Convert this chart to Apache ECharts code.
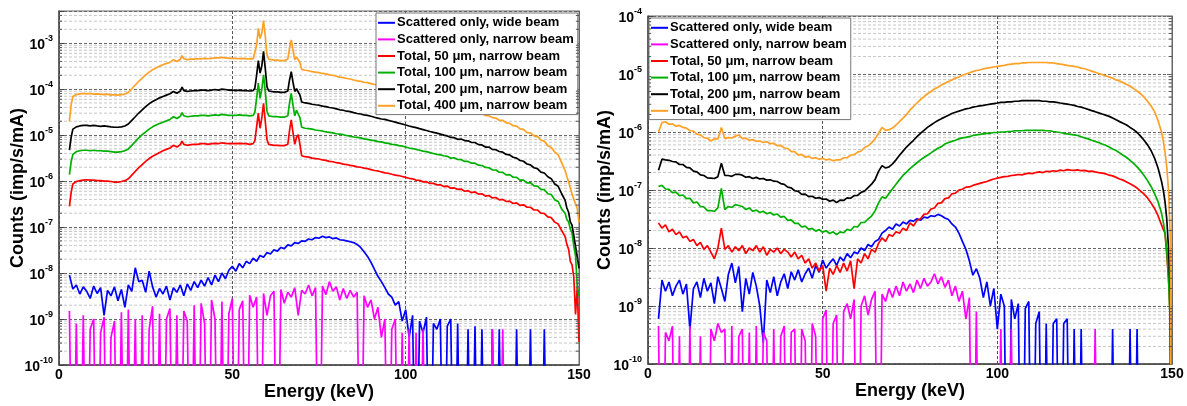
<!DOCTYPE html>
<html><head><meta charset="utf-8">
<script src="https://cdn.jsdelivr.net/npm/echarts@6/dist/echarts.min.js"></script>
<style>html,body{margin:0;padding:0;background:#fff}#c{width:1187px;height:406px}</style>
</head><body><div id="c"></div>
<script>
// ---------------- DATA ----------------
const seriesNames = ['Scattered only, wide beam','Scattered only, narrow beam','Total, 50 \u03bcm, narrow beam','Total, 100 \u03bcm, narrow beam','Total, 200 \u03bcm, narrow beam','Total, 400 \u03bcm, narrow beam'];
const energyTicksKeV = [0, 50, 100, 150];
const countsRangeLeft = [1e-10, 5e-3];
const countsRangeRight = [1e-10, 1e-4];

// energy bins (keV) of the scattered-only spectra (both panels)
const energyScatter = [
3,4,5,6,7,8,9,10,11,12,
13,14,15,16,17,18,19,20,21,22,
23,24,25,26,27,28,29,30,31,32,
33,34,35,36,37,38,39,40,41,42,
43,44,45,46,47,48,49,50,51,52,
53,54,55,56,57,58,59,60,61,62,
63,64,65,66,67,68,69,70,71,72,
73,74,75,76,77,78,79,80,81,82,
83,84,85,86,87,88,89,90,91,92,
93,94,95,96,97,98,99,100,101,102,
103,104,105,106,107,108,109,110,111,112,
113,114,115,116,117,118,119,120,121,122,
123,124,125,126,127,128,129,130,131,132,
133,134,135,136,137,138,139,140,141,142,
143,144,145,146,147,148,149,150];

// ----- left panel -----
const scatWideLeft = [
9e-9,4.5e-9,5.5e-9,3.5e-9,5e-9,4e-9,2.8e-9,5.2e-9,3.6e-9,4.8e-9,
1.2e-9,4.2e-9,3.2e-9,5e-9,2.5e-9,4.4e-9,1.8e-9,5.5e-9,4e-9,1.3e-8,
6.5e-9,7e-9,3.8e-9,1.1e-8,5e-9,3e-9,4.6e-9,3.5e-9,5.2e-9,2.6e-9,
4.8e-9,3.8e-9,5.5e-9,3.2e-9,5.8e-9,4.2e-9,6.5e-9,4.8e-9,7e-9,5.2e-9,
8e-9,5.5e-9,9e-9,6.5e-9,1e-8,7.5e-9,1.15e-8,1.4e-8,1.1e-8,1.6e-8,
1.3e-8,1.8e-8,1.6e-8,2.1e-8,1.8e-8,2.4e-8,2.2e-8,2.8e-8,2.6e-8,3.2e-8,
3e-8,3.6e-8,3.4e-8,4.1e-8,3.9e-8,4.6e-8,4.4e-8,5e-8,4.9e-8,5.5e-8,
5.3e-8,5.9e-8,5.7e-8,6.3e-8,5.9e-8,6.1e-8,5.6e-8,5.8e-8,5.3e-8,5.2e-8,
5e-8,4.8e-8,4.6e-8,4.2e-8,3.6e-8,2.9e-8,2.3e-8,1.7e-8,1.2e-8,8.5e-9,
6.5e-9,4.8e-9,3.5e-9,3e-9,2e-9,2.4e-9,9e-10,1.6e-9,4e-10,1.2e-9,
0,9e-10,5e-10,1.1e-9,0,8e-10,6e-10,1e-9,0,7e-10,
1e-9,0,8e-10,0,0,6e-10,0,7e-10,0,6e-10,
0,0,6e-10,0,6e-10,0,0,0,0,6e-10,
0,0,0,6e-10,0,0,0,6e-10,0,0,
0,0,0,0,0,0,0,0];
const scatNarrowLeft = [
1.5e-9,0,8e-10,0,1.2e-9,0,6e-10,1e-9,0,5e-10,
1.1e-9,0,4e-10,9e-10,0,1.4e-9,0,1.6e-9,0,1e-9,
0,1.2e-9,0,6e-10,1.9e-9,0,1.3e-9,0,1e-9,1.7e-9,
0,1.2e-9,0,1.5e-9,9e-10,0,2e-9,0,2.2e-9,8e-10,
0,2.6e-9,1e-9,0,2.4e-9,0,1.3e-9,2.8e-9,0,1.6e-9,
2.5e-9,0,3.3e-9,1.8e-9,3e-9,0,3.6e-9,1.2e-9,3.2e-9,4e-9,
0,4.4e-9,2.2e-9,3.8e-9,3e-9,4.8e-9,1.2e-9,4.2e-9,3.5e-9,5.5e-9,
3.2e-9,4.8e-9,0,5.2e-9,3.4e-9,6.5e-9,4e-9,5e-9,2.6e-9,4.6e-9,
2.8e-9,4.2e-9,3e-9,3.8e-9,0,3.2e-9,1.8e-9,2.6e-9,1e-9,1.8e-9,
4e-10,1e-9,0,6e-10,1e-9,0,5e-10,0,6e-10,0,
5e-10,0,6e-10,0,0,0,0,0,0,0,
0,0,0,0,0,0,0,0,0,0,
0,0,6e-10,0,0,6e-10,0,0,0,0,
0,0,0,0,0,0,0,0,0,0,
0,0,0,0,0,0,0,0];

// energy bins (keV) of the total spectra, left panel
const energyTotalLeft = [
3,3.5,4,5,6,7,8,9,10,11,
12,13,14,15,16,17,18,19,20,21,
22,23,24,25,26,27,28,29,30,31,
32,33,34,35,35.5,36,37,38,39,40,
41,42,43,44,45,46,47,48,49,50,
51,52,53,54,55,56,56.5,57,57.5,58,
58.5,59,59.5,60,60.5,61,62,63,64,65,
66,66.5,67,67.5,68,68.5,69,69.5,70,71,
72,73,74,75,76,77,78,79,80,81,
82,83,84,85,86,87,88,89,90,91,
92,93,94,95,96,97,98,99,100,101,
102,103,104,105,106,107,108,109,110,111,
112,113,114,115,116,117,118,119,120,121,
122,123,124,125,126,127,128,129,130,131,
132,133,134,135,136,137,138,139,140,141,
142,143,144,145,146,
146.5,147,147.5,148,148.5,149,149.5,150];
const total400Left = [
2.0e-5,4.5e-5,6.9e-5,7.6e-5,7.9e-5,8.1e-5,7.9e-5,8.1e-5,7.8e-5,7.9e-5,
7.8e-5,7.6e-5,7.8e-5,7.4e-5,7.6e-5,7.4e-5,7.6e-5,7.8e-5,8.5e-5,1.02e-4,
1.23e-4,1.48e-4,1.74e-4,2.04e-4,2.34e-4,2.63e-4,2.88e-4,3.16e-4,3.39e-4,3.63e-4,
3.8e-4,4.37e-4,3.98e-4,4.47e-4,5.37e-4,4.57e-4,4.37e-4,4.47e-4,4.47e-4,4.57e-4,
4.57e-4,4.68e-4,4.57e-4,4.68e-4,4.79e-4,4.79e-4,4.9e-4,4.79e-4,4.68e-4,4.68e-4,
4.68e-4,4.57e-4,4.68e-4,4.57e-4,4.57e-4,4.57e-4,5.0e-4,8.9e-4,2.09e-3,1.26e-3,
1.66e-3,3.09e-3,1.41e-3,5.62e-4,4.47e-4,4.37e-4,4.27e-4,4.27e-4,4.17e-4,4.17e-4,
4.47e-4,7.9e-4,1.17e-3,7.1e-4,4.37e-4,5.0e-4,5.25e-4,3.8e-4,2.69e-4,2.57e-4,
2.51e-4,2.4e-4,2.34e-4,2.29e-4,2.19e-4,2.14e-4,2.04e-4,2.0e-4,1.91e-4,1.82e-4,
1.78e-4,1.70e-4,1.66e-4,1.58e-4,1.51e-4,1.48e-4,1.41e-4,1.38e-4,1.32e-4,1.26e-4,
1.20e-4,1.15e-4,1.12e-4,1.07e-4,1.02e-4,9.8e-5,9.3e-5,8.9e-5,8.5e-5,8.1e-5,
7.8e-5,7.4e-5,7.1e-5,6.8e-5,6.5e-5,6.2e-5,5.9e-5,5.6e-5,5.2e-5,5.0e-5,
4.8e-5,4.5e-5,4.5e-5,4.1e-5,4.0e-5,3.6e-5,3.7e-5,3.3e-5,3.3e-5,3.0e-5,
3.0e-5,2.65e-5,2.65e-5,2.4e-5,2.35e-5,2.1e-5,2.1e-5,1.85e-5,1.8e-5,1.6e-5,
1.57e-5,1.36e-5,1.33e-5,1.13e-5,1.12e-5,9.6e-6,9.4e-6,7.8e-6,7.3e-6,5.9e-6,
5.4e-6,4.3e-6,3.7e-6,2.5e-6,1.7e-6,
1.26e-6,9.5e-7,7.1e-7,5.2e-7,4.0e-7,3.2e-7,2.5e-7,1.26e-7];
const total200Left = [
4.7e-6,8.9e-6,1.35e-5,1.51e-5,1.58e-5,1.62e-5,1.62e-5,1.58e-5,1.62e-5,1.58e-5,
1.55e-5,1.58e-5,1.55e-5,1.51e-5,1.48e-5,1.48e-5,1.51e-5,1.58e-5,1.74e-5,2.09e-5,
2.51e-5,3.02e-5,3.55e-5,4.17e-5,4.79e-5,5.37e-5,5.89e-5,6.46e-5,6.92e-5,7.41e-5,
7.94e-5,8.9e-5,8.1e-5,9.1e-5,1.10e-4,9.3e-5,8.9e-5,9.1e-5,9.3e-5,9.3e-5,
9.5e-5,9.5e-5,9.3e-5,9.5e-5,9.8e-5,9.5e-5,1.0e-4,9.8e-5,9.5e-5,9.5e-5,
9.3e-5,9.5e-5,9.3e-5,9.3e-5,9.1e-5,9.3e-5,1.05e-4,2.0e-4,4.17e-4,2.24e-4,
3.16e-4,6.6e-4,2.82e-4,1.12e-4,9.1e-5,8.9e-5,8.7e-5,8.7e-5,8.5e-5,8.5e-5,
9.1e-5,1.58e-4,2.4e-4,1.41e-4,8.9e-5,1.02e-4,1.10e-4,7.4e-5,5.25e-5,5.0e-5,
4.9e-5,4.68e-5,4.57e-5,4.47e-5,4.27e-5,4.17e-5,3.98e-5,3.89e-5,3.72e-5,3.55e-5,
3.47e-5,3.31e-5,3.24e-5,3.09e-5,2.95e-5,2.88e-5,2.75e-5,2.69e-5,2.57e-5,2.45e-5,
2.34e-5,2.24e-5,2.19e-5,2.09e-5,2.0e-5,1.91e-5,1.82e-5,1.74e-5,1.66e-5,1.58e-5,
1.51e-5,1.45e-5,1.38e-5,1.32e-5,1.26e-5,1.20e-5,1.15e-5,1.10e-5,1.05e-5,1.0e-5,
9.6e-6,8.9e-6,8.8e-6,8.1e-6,8.2e-6,7.6e-6,7.5e-6,6.9e-6,6.9e-6,6.2e-6,
6.1e-6,5.5e-6,5.5e-6,4.9e-6,4.8e-6,4.4e-6,4.25e-6,3.8e-6,3.7e-6,3.3e-6,
3.15e-6,2.8e-6,2.7e-6,2.35e-6,2.25e-6,1.95e-6,1.87e-6,1.57e-6,1.5e-6,1.24e-6,
1.13e-6,8.6e-7,7.7e-7,5.3e-7,3.8e-7,
2.6e-7,2.1e-7,1.3e-7,1.1e-7,6.5e-8,6e-8,2.24e-8,1.26e-8];
const total100Left = [
1.38e-6,2.63e-6,3.8e-6,4.37e-6,4.57e-6,4.68e-6,4.68e-6,4.57e-6,4.68e-6,4.57e-6,
4.57e-6,4.47e-6,4.47e-6,4.37e-6,4.27e-6,4.27e-6,4.37e-6,4.57e-6,5.0e-6,6.0e-6,
7.2e-6,8.7e-6,1.02e-5,1.17e-5,1.35e-5,1.51e-5,1.66e-5,1.78e-5,1.91e-5,2.04e-5,
2.19e-5,2.51e-5,2.29e-5,2.57e-5,3.09e-5,2.63e-5,2.51e-5,2.57e-5,2.63e-5,2.63e-5,
2.69e-5,2.69e-5,2.63e-5,2.69e-5,2.75e-5,2.69e-5,2.82e-5,2.75e-5,2.69e-5,2.69e-5,
2.69e-5,2.75e-5,2.69e-5,2.69e-5,2.63e-5,2.69e-5,3.16e-5,6.3e-5,1.35e-4,6.3e-5,
1.0e-4,2.04e-4,8.9e-5,3.31e-5,2.63e-5,2.57e-5,2.51e-5,2.51e-5,2.45e-5,2.45e-5,
2.63e-5,5.0e-5,8.1e-5,4.47e-5,2.63e-5,3.47e-5,3.8e-5,2.4e-5,1.48e-5,1.41e-5,
1.38e-5,1.35e-5,1.29e-5,1.26e-5,1.23e-5,1.17e-5,1.15e-5,1.12e-5,1.07e-5,1.05e-5,
1.02e-5,9.8e-6,9.5e-6,9.1e-6,8.9e-6,8.7e-6,8.3e-6,8.1e-6,7.8e-6,7.6e-6,
7.2e-6,7.1e-6,6.8e-6,6.6e-6,6.3e-6,6.2e-6,5.9e-6,5.75e-6,5.5e-6,5.25e-6,
5.1e-6,4.9e-6,4.68e-6,4.47e-6,4.37e-6,4.17e-6,3.98e-6,3.8e-6,3.72e-6,3.55e-6,
3.45e-6,3.15e-6,3.22e-6,2.95e-6,2.93e-6,2.68e-6,2.68e-6,2.45e-6,2.45e-6,2.22e-6,
2.18e-6,1.98e-6,1.95e-6,1.76e-6,1.74e-6,1.56e-6,1.55e-6,1.36e-6,1.38e-6,1.21e-6,
1.2e-6,1.05e-6,1.05e-6,9.1e-7,9.2e-7,7.9e-7,7.8e-7,6.6e-7,6.5e-7,5.3e-7,
5.1e-7,3.9e-7,3.6e-7,2.45e-7,2.0e-7,
1.45e-7,1.3e-7,9e-8,7.5e-8,3.8e-8,2.4e-8,5e-9,3.2e-9];
const total50Left = [
2.82e-7,5.6e-7,8.7e-7,9.8e-7,1.02e-6,1.05e-6,1.07e-6,1.05e-6,1.05e-6,1.02e-6,
1.02e-6,1.0e-6,1.0e-6,9.8e-7,9.5e-7,9.5e-7,9.8e-7,1.02e-6,1.12e-6,1.35e-6,
1.62e-6,1.95e-6,2.29e-6,2.69e-6,3.09e-6,3.47e-6,3.8e-6,4.17e-6,4.57e-6,4.9e-6,
5.25e-6,6.0e-6,5.5e-6,6.2e-6,7.4e-6,6.3e-6,6.0e-6,6.2e-6,6.3e-6,6.3e-6,
6.5e-6,6.5e-6,6.3e-6,6.5e-6,6.6e-6,6.5e-6,6.8e-6,6.6e-6,6.5e-6,6.5e-6,
6.5e-6,6.6e-6,6.5e-6,6.5e-6,6.3e-6,6.5e-6,7.6e-6,1.51e-5,3.02e-5,1.41e-5,
2.34e-5,4.9e-5,2.0e-5,7.9e-6,6.3e-6,6.2e-6,6.0e-6,6.0e-6,5.9e-6,5.9e-6,
6.3e-6,1.26e-5,2.14e-5,1.12e-5,6.3e-6,8.9e-6,1.02e-5,6.3e-6,3.55e-6,3.39e-6,
3.31e-6,3.16e-6,3.09e-6,3.02e-6,2.88e-6,2.82e-6,2.69e-6,2.63e-6,2.51e-6,2.45e-6,
2.34e-6,2.29e-6,2.19e-6,2.14e-6,2.04e-6,2.0e-6,1.91e-6,1.86e-6,1.78e-6,1.70e-6,
1.66e-6,1.58e-6,1.51e-6,1.48e-6,1.41e-6,1.35e-6,1.32e-6,1.26e-6,1.20e-6,1.15e-6,
1.12e-6,1.05e-6,1.04e-6,9.6e-7,9.7e-7,8.9e-7,8.9e-7,8.3e-7,8.3e-7,7.6e-7,
7.8e-7,7.0e-7,7.1e-7,6.6e-7,6.7e-7,6.0e-7,6.2e-7,5.6e-7,5.8e-7,5.2e-7,
5.3e-7,4.7e-7,4.85e-7,4.3e-7,4.4e-7,3.9e-7,4.0e-7,3.6e-7,3.65e-7,3.25e-7,
3.35e-7,2.95e-7,3.05e-7,2.7e-7,2.7e-7,2.35e-7,2.35e-7,2.0e-7,1.97e-7,1.66e-7,
1.6e-7,1.28e-7,1.16e-7,8.4e-8,6.2e-8,
4.2e-8,3.3e-8,1.8e-8,1.5e-8,8e-9,1.26e-9,5.0e-9,3.2e-10];

// ----- right panel -----
const scatWideRight = [
6e-10,2.8e-9,1.8e-9,2.6e-9,1.5e-9,2.2e-9,2.8e-9,1.6e-9,2.4e-9,4e-10,
2.0e-9,2.6e-9,1.4e-9,3.0e-9,1.8e-9,2.5e-9,1.1e-9,3.2e-9,2.0e-9,1.2e-9,
3.5e-9,5.5e-9,2.5e-9,4.8e-9,8e-10,3.0e-9,1.6e-9,3.8e-9,2.2e-9,1.0e-9,
2.3e-10,2.8e-9,1.7e-9,3.2e-9,1.5e-9,2.6e-9,3.6e-9,2.0e-9,3.9e-9,2.8e-9,
4.2e-9,2.6e-9,3.6e-9,4.5e-9,3.0e-9,5.0e-9,3.8e-9,6.2e-9,4.5e-9,5.5e-9,
6.5e-9,5.0e-9,7.0e-9,6.0e-9,8.0e-9,6.8e-9,8.5e-9,8.0e-9,1.0e-8,9.0e-9,
1.15e-8,1.05e-8,1.3e-8,1.4e-8,1.8e-8,2.0e-8,2.3e-8,2.1e-8,2.6e-8,2.4e-8,
2.8e-8,2.6e-8,3.0e-8,2.9e-8,3.2e-8,3.0e-8,3.4e-8,3.3e-8,3.6e-8,3.5e-8,
3.8e-8,3.6e-8,3.3e-8,3.1e-8,2.6e-8,2.3e-8,1.8e-8,1.3e-8,9.5e-9,6.0e-9,
3.4e-9,4.4e-9,3.0e-9,1.4e-9,2.6e-9,1.0e-9,2.0e-9,4e-10,1.6e-9,1.0e-9,
0,1.3e-9,6e-10,1.1e-9,0,9e-10,1.2e-9,0,5e-10,8e-10,
0,5e-10,0,5e-10,6e-10,0,5e-10,6e-10,0,4e-10,
0,4e-10,0,0,0,0,0,0,0,0,
4e-10,0,0,0,0,4e-10,0,4e-10,0,0,
0,0,0,0,0,0,0,0];
const scatNarrowRight = [
4.5e-10,0,3.5e-10,2.5e-10,4.5e-10,0,3e-10,0,0,4.5e-10,
0,0,3e-10,0,0,4e-10,2.5e-10,5e-10,3.5e-10,4e-10,
0,4.5e-10,0,3e-10,4e-10,0,3.5e-10,0,4.5e-10,0,
3.5e-10,2.5e-10,0,4e-10,0,3e-10,4.5e-10,0,3.5e-10,4e-10,
0,4e-10,2.5e-10,0,5e-10,3e-10,0,6e-10,8.5e-10,0,
5e-10,7e-10,0,8e-10,1.1e-9,6e-10,1.3e-9,0,1.0e-9,1.5e-9,
7e-10,1.3e-9,1.8e-9,0,1.6e-9,1.2e-9,2.0e-9,1.4e-9,2.2e-9,1.5e-9,
2.6e-9,1.8e-9,2.4e-9,1.7e-9,2.8e-9,2.0e-9,3.0e-9,2.2e-9,2.6e-9,3.6e-9,
2.4e-9,3.2e-9,2.1e-9,2.8e-9,1.5e-9,2.2e-9,1.2e-9,1.8e-9,6e-10,1.4e-9,
0,8e-10,0,0,0,0,0,0,4e-10,0,
0,4e-10,0,0,0,0,0,0,0,0,
0,0,0,0,0,0,0,0,0,0,
0,0,0,0,0,4e-10,0,0,0,0,
0,0,0,0,0,0,0,0,0,0,
0,0,0,0,0,0,0,0];

// energy bins (keV) of the total spectra, right panel
const energyTotalRight = [
3,4,5,6,7,8,9,10,11,12,
13,14,15,16,17,18,19,20,21,22,
23,24,25,26,27,28,29,30,31,32,
33,34,35,36,37,38,39,40,41,42,
43,44,45,46,47,48,49,50,51,52,
53,54,55,56,57,58,59,60,61,62,
63,64,65,66,67,68,69,70,71,72,
73,74,75,76,77,78,79,80,81,82,
83,84,85,86,87,88,89,90,91,92,
93,94,95,96,97,98,99,100,101,102,
103,104,105,106,107,108,109,110,111,112,
113,114,115,116,117,118,119,120,121,122,
123,124,125,126,127,128,129,130,131,132,
133,134,135,136,137,138,139,140,141,142,
143,144,145,146,147,
147.5,148,148.5,149,149.5,150];
const total400Right = [
1.0e-6,1.45e-6,1.5e-6,1.36e-6,1.38e-6,1.26e-6,1.3e-6,1.2e-6,1.17e-6,1.05e-6,
1.04e-6,9.2e-7,8.9e-7,8.0e-7,7.8e-7,7.0e-7,7.7e-7,7.6e-7,1.2e-6,7.7e-7,
8.0e-7,7.9e-7,8.5e-7,8.9e-7,7.7e-7,7.8e-7,7.2e-7,7.4e-7,6.9e-7,7.0e-7,
6.6e-7,6.8e-7,6.3e-7,6.4e-7,5.8e-7,5.9e-7,5.3e-7,5.2e-7,4.6e-7,4.6e-7,
4.0e-7,4.1e-7,3.7e-7,3.8e-7,3.5e-7,3.6e-7,3.4e-7,3.5e-7,3.3e-7,3.4e-7,
3.2e-7,3.3e-7,3.3e-7,3.6e-7,3.6e-7,4.0e-7,4.05e-7,4.5e-7,4.7e-7,5.4e-7,
5.75e-7,6.5e-7,7.6e-7,9.5e-7,1.2e-6,1.07e-6,1.10e-6,1.17e-6,1.32e-6,1.51e-6,
1.74e-6,2.0e-6,2.4e-6,2.75e-6,3.16e-6,3.63e-6,4.07e-6,4.57e-6,5.0e-6,5.5e-6,
5.9e-6,6.5e-6,6.9e-6,7.4e-6,7.9e-6,8.5e-6,8.9e-6,9.5e-6,1.0e-5,1.05e-5,
1.10e-5,1.15e-5,1.17e-5,1.23e-5,1.26e-5,1.29e-5,1.32e-5,1.35e-5,1.38e-5,1.41e-5,
1.45e-5,1.48e-5,1.51e-5,1.51e-5,1.55e-5,1.55e-5,1.58e-5,1.58e-5,1.58e-5,1.58e-5,
1.58e-5,1.58e-5,1.55e-5,1.55e-5,1.51e-5,1.48e-5,1.45e-5,1.41e-5,1.38e-5,1.35e-5,
1.32e-5,1.26e-5,1.23e-5,1.17e-5,1.12e-5,1.07e-5,1.02e-5,9.8e-6,9.3e-6,8.9e-6,
8.5e-6,7.9e-6,7.6e-6,7.1e-6,6.6e-6,6.2e-6,5.6e-6,5.1e-6,4.57e-6,3.98e-6,
3.39e-6,2.82e-6,2.24e-6,1.58e-6,1.0e-6,
7.1e-7,4.47e-7,2.5e-7,1.0e-7,1.6e-8,0];
const total200Right = [
2.2e-7,3.4e-7,3.3e-7,3.25e-7,3.1e-7,3.05e-7,2.75e-7,2.75e-7,2.45e-7,2.4e-7,
2.12e-7,2.05e-7,1.82e-7,1.78e-7,1.62e-7,1.6e-7,1.58e-7,1.7e-7,2.9e-7,1.78e-7,
1.78e-7,1.72e-7,1.86e-7,1.87e-7,1.8e-7,1.66e-7,1.7e-7,1.58e-7,1.65e-7,1.55e-7,
1.58e-7,1.48e-7,1.5e-7,1.42e-7,1.4e-7,1.29e-7,1.25e-7,1.12e-7,1.09e-7,9.7e-8,
9.5e-8,8.4e-8,8.5e-8,7.7e-8,7.8e-8,7.2e-8,7.4e-8,6.9e-8,7.0e-8,6.4e-8,
6.7e-8,6.1e-8,6.7e-8,6.6e-8,7.3e-8,7.2e-8,8.0e-8,8.1e-8,9.1e-8,9.6e-8,
1.10e-7,1.26e-7,1.51e-7,2.09e-7,2.63e-7,2.4e-7,2.51e-7,2.82e-7,3.31e-7,3.98e-7,
4.68e-7,5.5e-7,6.3e-7,7.2e-7,8.3e-7,9.5e-7,1.07e-6,1.20e-6,1.32e-6,1.45e-6,
1.58e-6,1.70e-6,1.82e-6,1.95e-6,2.09e-6,2.19e-6,2.29e-6,2.4e-6,2.51e-6,2.57e-6,
2.69e-6,2.75e-6,2.82e-6,2.88e-6,2.95e-6,3.02e-6,3.09e-6,3.16e-6,3.24e-6,3.24e-6,
3.31e-6,3.31e-6,3.39e-6,3.39e-6,3.47e-6,3.47e-6,3.47e-6,3.47e-6,3.47e-6,3.47e-6,
3.39e-6,3.39e-6,3.31e-6,3.31e-6,3.24e-6,3.16e-6,3.09e-6,3.02e-6,2.95e-6,2.88e-6,
2.75e-6,2.69e-6,2.57e-6,2.45e-6,2.34e-6,2.24e-6,2.14e-6,2.04e-6,1.95e-6,1.86e-6,
1.74e-6,1.62e-6,1.51e-6,1.41e-6,1.32e-6,1.20e-6,1.10e-6,9.8e-7,8.5e-7,7.2e-7,
6.0e-7,4.8e-7,3.55e-7,2.4e-7,1.41e-7,
1.0e-7,6.3e-8,3.16e-8,1.0e-8,1.6e-9,0];
const total100Right = [
1.15e-7,1.2e-7,1.04e-7,1.03e-7,9.0e-8,9.2e-8,8.0e-8,8.2e-8,7.1e-8,7.2e-8,
6.0e-8,6.2e-8,5.2e-8,5.1e-8,4.4e-8,4.4e-8,4.3e-8,4.9e-8,1.07e-7,4.6e-8,
5.2e-8,5.0e-8,5.6e-8,5.4e-8,5.2e-8,4.6e-8,4.9e-8,4.3e-8,4.5e-8,4.1e-8,
4.3e-8,3.9e-8,4.1e-8,3.7e-8,3.85e-8,3.4e-8,3.5e-8,3.0e-8,3.05e-8,2.65e-8,
2.65e-8,2.3e-8,2.38e-8,2.1e-8,2.18e-8,1.95e-8,2.08e-8,1.87e-8,1.98e-8,1.78e-8,
1.9e-8,1.7e-8,1.9e-8,1.83e-8,2.1e-8,2.0e-8,2.35e-8,2.3e-8,2.75e-8,2.75e-8,
3.16e-8,3.55e-8,4.37e-8,6.0e-8,7.6e-8,7.2e-8,8.7e-8,1.05e-7,1.26e-7,1.51e-7,
1.78e-7,2.04e-7,2.34e-7,2.63e-7,2.95e-7,3.31e-7,3.63e-7,3.98e-7,4.37e-7,4.8e-7,
5.25e-7,5.6e-7,6.2e-7,6.6e-7,6.9e-7,7.2e-7,7.6e-7,7.9e-7,8.1e-7,8.3e-7,
8.7e-7,8.9e-7,9.1e-7,9.3e-7,9.5e-7,9.5e-7,9.8e-7,9.8e-7,1.0e-6,1.0e-6,
1.02e-6,1.02e-6,1.05e-6,1.05e-6,1.05e-6,1.07e-6,1.07e-6,1.07e-6,1.07e-6,1.07e-6,
1.07e-6,1.05e-6,1.05e-6,1.02e-6,1.0e-6,9.8e-7,9.5e-7,9.3e-7,9.1e-7,8.9e-7,
8.7e-7,8.3e-7,7.9e-7,7.6e-7,7.2e-7,6.9e-7,6.6e-7,6.2e-7,5.9e-7,5.5e-7,
5.1e-7,4.8e-7,4.37e-7,3.98e-7,3.63e-7,3.24e-7,2.88e-7,2.51e-7,2.14e-7,1.78e-7,
1.45e-7,1.15e-7,8.7e-8,6.3e-8,4.0e-8,
2.82e-8,1.78e-8,8.9e-9,3.2e-9,5e-10,0];
const total50Right = [
2.7e-8,2.2e-8,2.5e-8,1.9e-8,2.1e-8,1.7e-8,1.9e-8,1.5e-8,1.6e-8,1.3e-8,
1.4e-8,1.1e-8,1.25e-8,9.5e-9,1.1e-8,8.5e-9,6.5e-9,1.0e-8,2.2e-8,9.5e-9,
1.1e-8,8.5e-9,1.05e-8,9.0e-9,1.1e-8,8.0e-9,1.0e-8,9.0e-9,1.1e-8,8.5e-9,
1.05e-8,7.5e-9,9.5e-9,8.5e-9,1.0e-8,8.0e-9,9.5e-9,8.5e-9,7.0e-9,8.5e-9,
6.5e-9,7.5e-9,5.5e-9,6.5e-9,4.5e-9,5.5e-9,4.0e-9,5.0e-9,1.8e-9,4.5e-9,
3.5e-9,5.0e-9,3.8e-9,5.5e-9,4.0e-9,6.0e-9,2.0e-9,6.5e-9,5.5e-9,8.0e-9,
6.5e-9,9.5e-9,8.5e-9,1.2e-8,1.5e-8,1.3e-8,1.7e-8,1.6e-8,1.9e-8,1.8e-8,
2.2e-8,2.0e-8,2.7e-8,2.4e-8,3.0e-8,3.2e-8,3.8e-8,3.9e-8,4.7e-8,4.9e-8,
5.9e-8,6.0e-8,7.1e-8,7.3e-8,8.6e-8,8.8e-8,1.0e-7,1.03e-7,1.12e-7,1.13e-7,
1.2e-7,1.25e-7,1.3e-7,1.35e-7,1.4e-7,1.48e-7,1.55e-7,1.6e-7,1.65e-7,1.7e-7,
1.72e-7,1.78e-7,1.8e-7,1.85e-7,1.82e-7,1.9e-7,1.95e-7,1.92e-7,2.0e-7,2.05e-7,
2.0e-7,2.1e-7,2.08e-7,2.15e-7,2.1e-7,2.2e-7,2.15e-7,2.25e-7,2.2e-7,2.18e-7,
2.22e-7,2.15e-7,2.18e-7,2.1e-7,2.12e-7,2.05e-7,2.0e-7,1.95e-7,1.9e-7,1.8e-7,
1.75e-7,1.65e-7,1.55e-7,1.48e-7,1.38e-7,1.28e-7,1.18e-7,1.08e-7,9.6e-8,8.5e-8,
7.3e-8,6.0e-8,4.8e-8,3.6e-8,2.5e-8,
2.1e-8,1.8e-8,8e-9,3e-9,6e-10,0];

// ---------------- CHART ----------------
const FONT = 'Arial, "Liberation Sans", sans-serif';
const COLORS = ['#0000ff', '#ff00ff', '#ff0000', '#00b000', '#000000', '#ffa126'];
const FLOOR = 1e-14; // zero counts cannot be shown on a log axis: send them far below the axis floor

function pairs(xs, ys) {
  const n = Math.min(xs.length, ys.length), out = [];
  for (let i = 0; i < n; i++) out.push([xs[i], ys[i] > 0 ? ys[i] : FLOOR]);
  return out;
}
function minorValues(range) {
  const out = [];
  const lo = Math.round(Math.log10(range[0])), hi = Math.ceil(Math.log10(range[1]));
  for (let e = lo; e < hi; e++) for (let m = 2; m <= 9; m++) {
    const v = m * Math.pow(10, e);
    if (v < range[1] * 0.999) out.push(v);
  }
  return out;
}
// horizontal segments (broken by nulls) at the minor log positions, from x0 to x1 (keV)
function hSegments(range, x0, x1) {
  const out = [];
  minorValues(range).forEach(v => { out.push([x0, v], [x1, v], [x1, null]); });
  return out;
}
function decadeLabel(v) {
  const e = Math.log10(v), r = Math.round(e);
  if (Math.abs(e - r) > 1e-6) return '';
  return '{b|10}{s|' + (r < 0 ? '-' : '') + Math.abs(r) + '}';
}
const labelRich = {
  b: { fontSize: 14, fontWeight: 'bold', fontFamily: FONT, color: '#000', lineHeight: 18, verticalAlign: 'bottom' },
  s: { fontSize: 9, fontWeight: 'bold', fontFamily: FONT, color: '#000', lineHeight: 9, verticalAlign: 'top' }
};

function xAxisFor(gi) {
  return {
    type: 'value', gridIndex: gi, min: energyTicksKeV[0], max: energyTicksKeV[energyTicksKeV.length - 1],
    interval: energyTicksKeV[1] - energyTicksKeV[0],
    name: 'Energy (keV)', nameLocation: 'middle', nameGap: 18, nameMoveOverlap: false,
    nameTextStyle: { fontSize: 18, fontWeight: 'bold', fontFamily: FONT, color: '#000' },
    axisLine: { show: true, lineStyle: { color: '#444', width: 1.5 } },
    axisTick: { show: false },
    axisLabel: { fontSize: 14, fontWeight: 'bold', fontFamily: FONT, color: '#000', margin: 3 },
    splitLine: { show: true, lineStyle: { color: '#555', type: [3, 2], width: 1 } }
  };
}
function yAxisFor(gi, range, nameGap) {
  const span = Math.round(Math.log10(range[1]) - Math.log10(range[0]));
  return {
    type: 'log', logBase: 10, gridIndex: gi, min: range[0], max: range[1], splitNumber: span,
    name: 'Counts (imp/s/mA)', nameLocation: 'middle', nameGap: nameGap, nameRotate: 90, nameMoveOverlap: false,
    nameTextStyle: { fontSize: 18, fontWeight: 'bold', fontFamily: FONT, color: '#000' },
    axisLine: { show: true, lineStyle: { color: '#444', width: 1.5 } },
    axisTick: { show: true, inside: true, length: 5, lineStyle: { color: '#444' } },
    axisLabel: { formatter: decadeLabel, rich: labelRich, margin: 6, showMaxLabel: true },
    splitLine: { show: true, lineStyle: { color: '#666', type: [3, 2], width: 1 } }
  };
}
function yAxisRight(gi, range) {
  const span = Math.round(Math.log10(range[1]) - Math.log10(range[0]));
  return {
    type: 'log', logBase: 10, gridIndex: gi, position: 'right', min: range[0], max: range[1], splitNumber: span,
    axisLine: { show: true, lineStyle: { color: '#666', width: 1 } },
    axisTick: { show: true, inside: true, length: 5, lineStyle: { color: '#666' } },
    axisLabel: { show: false }, splitLine: { show: false }
  };
}

function panelSeries(xi, yi, scatWide, scatNarrow, totals, energyTotal, range) {
  const xmin = energyTicksKeV[0], xmax = energyTicksKeV[energyTicksKeV.length - 1];
  const list = [
    { // minor grid lines
      type: 'line', name: 'minor-grid', xAxisIndex: xi, yAxisIndex: yi, silent: true, z: 1,
      showSymbol: false, symbol: 'none', connectNulls: false, clip: true,
      lineStyle: { color: '#c8c8c8', type: [3, 2], width: 1 },
      data: hSegments(range, xmin, xmax)
    },
    { // minor ticks on left and right frame
      type: 'line', name: 'minor-ticks', xAxisIndex: xi, yAxisIndex: yi, silent: true, z: 4,
      showSymbol: false, symbol: 'none', connectNulls: false, clip: true,
      lineStyle: { color: '#555', width: 1 },
      data: hSegments(range, xmin, xmin + 0.9).concat(hSegments(range, xmax - 0.9, xmax))
    }
  ];
  const dataSets = [pairs(energyScatter, scatWide), pairs(energyScatter, scatNarrow)]
    .concat(totals.map(t => pairs(energyTotal, t)));
  dataSets.forEach((d, i) => list.push({
    type: 'line', name: seriesNames[i], xAxisIndex: xi, yAxisIndex: yi, data: d,
    showSymbol: false, symbol: 'none', clip: true, z: 3,
    lineStyle: { color: COLORS[i], width: 1.7 }, itemStyle: { color: COLORS[i] }
  }));
  return list;
}

function legendFor(left, top) {
  return {
    data: seriesNames, orient: 'vertical', left: left, top: top,
    icon: 'rect', itemWidth: 17, itemHeight: 2, itemGap: 1, padding: [2, 4, 1, 2],
    backgroundColor: '#fff', borderColor: '#777', borderWidth: 1,
    selectedMode: false,
    textStyle: { fontSize: 13, fontWeight: 'bold', fontFamily: FONT, color: '#000', lineHeight: 15.6, padding: [0, 0, 0, -3] }
  };
}

const chart = echarts.init(document.getElementById('c'), null, { renderer: 'canvas' });
chart.setOption({
  animation: false,
  backgroundColor: '#fff',
  grid: [
    { left: 59, top: 11, width: 520, height: 354, show: true, borderColor: '#666', borderWidth: 1 },
    { left: 648, top: 16, width: 524, height: 348, show: true, borderColor: '#666', borderWidth: 1 }
  ],
  xAxis: [xAxisFor(0), xAxisFor(1)],
  yAxis: [yAxisFor(0, countsRangeLeft, 32), yAxisRight(0, countsRangeLeft), yAxisFor(1, countsRangeRight, 34), yAxisRight(1, countsRangeRight)],
  legend: [legendFor(376, 13), legendFor(649, 18)],
  series: panelSeries(0, 0, scatWideLeft, scatNarrowLeft, [total50Left, total100Left, total200Left, total400Left], energyTotalLeft, countsRangeLeft)
    .concat(panelSeries(1, 2, scatWideRight, scatNarrowRight, [total50Right, total100Right, total200Right, total400Right], energyTotalRight, countsRangeRight))
});
</script>
</body></html>
